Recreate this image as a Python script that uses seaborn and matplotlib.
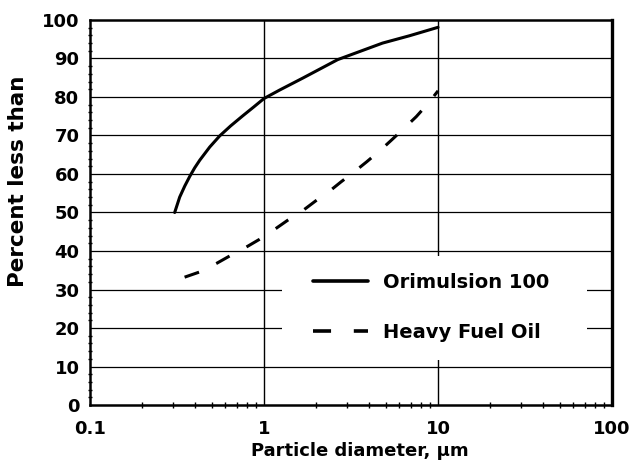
import matplotlib
matplotlib.use("Agg")
import matplotlib.pyplot as plt
import matplotlib.ticker as mticker
from matplotlib.patches import Rectangle
import numpy as np
import pandas as pd
import seaborn as sns

# Cumulative particle size distributions (percent of mass below a given diameter)
orimulsion_diam = [0.307, 0.328, 0.351, 0.375, 0.400, 0.428, 0.488, 0.557, 0.644,
                   0.755, 0.873, 1.0, 1.23, 1.67, 2.65, 4.8, 6.85, 10.0]
orimulsion_pct = [50, 54.0, 56.9, 59.4, 61.6, 63.6, 67.0, 69.9, 72.5,
                  75.1, 77.4, 79.6, 81.8, 84.9, 89.7, 94.0, 95.9, 98.1]

hfo_diam = [0.35, 0.43, 0.535, 0.635, 0.77, 0.94, 1.15, 1.37, 1.65, 1.98, 2.45,
            2.78, 3.33, 3.9, 4.7, 5.4, 6.5, 7.5, 8.8, 10.0]
hfo_pct = [33.2, 34.6, 36.8, 38.7, 40.7, 43.0, 45.6, 48.0, 50.3, 53.0, 56.0, 58.0,
           60.7, 63.2, 66.3, 68.8, 72.2, 74.9, 78.4, 81.6]

series_names = ["Orimulsion 100", "Heavy Fuel Oil"]
x_ticks = [0.1, 1, 10, 100]
x_tick_labels = ["0.1", "1", "10", "100"]
y_ticks = list(range(0, 101, 10))

df = pd.concat([
    pd.DataFrame({"d": orimulsion_diam, "p": orimulsion_pct, "fuel": series_names[0]}),
    pd.DataFrame({"d": hfo_diam, "p": hfo_pct, "fuel": series_names[1]}),
])

sns.set_theme(style="white")
plt.rcParams["font.family"] = ["DejaVu Sans"]
plt.rcParams["font.weight"] = "bold"
for key in ("text.color", "axes.labelcolor", "xtick.color", "ytick.color"):
    plt.rcParams[key] = "black"

fig = plt.figure(figsize=(6.33, 4.68), dpi=100)
ax = fig.add_axes([0.142, 0.1346, 0.825, 0.8227])

ax.set_xscale("log")
ax.set_xlim(0.1, 100)
ax.set_ylim(0, 100)

# grid lines
for yv in y_ticks[1:-1]:
    ax.axhline(yv, color="black", lw=0.9, zorder=1)
for xv in x_ticks[1:-1]:
    ax.axvline(xv, color="black", lw=1.0, zorder=1)

sns.lineplot(data=df, x="d", y="p", hue="fuel", style="fuel",
             palette=["black", "black"],
             dashes={series_names[0]: "", series_names[1]: (5, 6.3)},
             lw=2.2, ax=ax, zorder=3, sort=False, estimator=None)

ax.set_xticks(x_ticks)
ax.set_xticklabels(x_tick_labels)
ax.xaxis.set_minor_locator(mticker.LogLocator(base=10, subs=np.arange(2, 10)))
ax.xaxis.set_minor_formatter(mticker.NullFormatter())
ax.set_yticks(y_ticks)
ax.yaxis.set_minor_locator(mticker.MultipleLocator(2))

ax.tick_params(axis="both", which="major", labelsize=13, length=6, width=1.2,
               color="black", direction="out")
ax.tick_params(axis="x", which="major", pad=5)
ax.tick_params(axis="y", which="major", pad=1.5)
ax.tick_params(axis="x", which="minor", length=4, width=1.0, direction="inout",
               bottom=True)
ax.tick_params(axis="y", which="minor", length=3.5, width=1.0, direction="inout",
               left=True)
for lab in ax.get_xticklabels() + ax.get_yticklabels():
    lab.set_fontweight("bold")

for sp in ax.spines.values():
    sp.set_color("black")
    sp.set_linewidth(1.8)
    sp.set_visible(True)
ax.spines["right"].set_linewidth(2.4)

ax.set_xlabel("Particle diameter, µm", fontsize=13, fontweight="bold")
ax.xaxis.set_label_coords(0.517, -0.095)
ax.set_ylabel("Percent less than", fontsize=15.5, fontweight="bold")
ax.yaxis.set_label_coords(-0.119, 0.58)

# white panel behind the key
ax.add_patch(Rectangle((0.368, 0.117), 0.584, 0.27, transform=ax.transAxes,
                       facecolor="white", edgecolor="none", zorder=4))

leg = ax.legend(title=None, loc="upper left", bbox_to_anchor=(0.427, 0.343),
                frameon=False, borderaxespad=0, borderpad=0,
                fontsize=14, handlelength=2.83, handletextpad=0.77,
                labelspacing=1.6)
for t in leg.get_texts():
    t.set_fontweight("bold")
for h in leg.get_lines():
    h.set_linewidth(2.6)
leg.set_zorder(5)

fig.savefig("out.png", dpi=100)
